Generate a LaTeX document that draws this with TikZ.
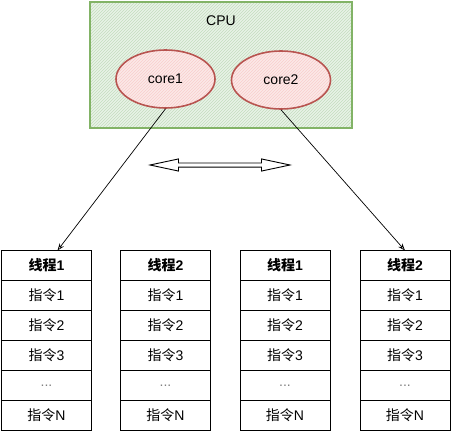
\documentclass[tikz,border=0pt]{standalone}
\usepackage{fontspec}
\setmainfont{Liberation Sans}
\newfontfamily\cjk{Noto Sans CJK SC}
\usetikzlibrary{arrows.meta, positioning, patterns, shapes.geometric, shapes.arrows}
\definecolor{cpugreen}{RGB}{130,179,102}
\definecolor{cpufill}{RGB}{213,232,212}
\definecolor{corered}{RGB}{184,84,80}
\definecolor{corefill}{RGB}{248,206,204}
\newcommand{\diafont}{\fontsize{14}{16}\selectfont}
\tikzset{
    cpubox/.style={rectangle, draw=cpugreen, line width=1.6pt, preaction={fill=cpufill!55}, pattern=north east lines, pattern color=cpufill!80!cpugreen, minimum width=262pt, minimum height=126pt, inner sep=0pt},
    coreball/.style={ellipse, draw=corered, line width=1.6pt, preaction={fill=corefill!45}, pattern=north east lines, pattern color=corefill, minimum width=99pt, minimum height=58pt, inner sep=0pt},
    threadbox/.style={rectangle, draw=black, line width=0.8pt, fill=white, minimum width=90pt, minimum height=30pt, inner sep=0pt, outer sep=0pt},
    threadhead/.style={threadbox, font=\diafont\bfseries},
    corearrow/.style={-{Stealth[length=2.5mm, open]}, line width=0.7pt, black},
    swaparrow/.style={double arrow, draw=black, line width=0.9pt, fill=white, minimum height=140pt, inner sep=1.6pt, double arrow head extend=4pt, double arrow tip angle=24}
}

\begin{document}
\begin{tikzpicture}[x=1pt, y=-1pt, font=\diafont]
\useasboundingbox (0,0) rectangle (451,431);

\node[cpubox, label={[anchor=center, yshift=-19pt]north:CPU}] (cpu) at (221,65) {};
\node[coreball] (core1) at (165.5,79) {core1};
\node[coreball] (core2) at (281,80) {core2};

\node[swaparrow] (swap) at (220,165) {};

\foreach \i/\x/\n in {1/46.5/1, 2/165.5/2, 3/285/1, 4/405/2} {
    \node[threadhead] (h\i) at (\x,265.5) {{\cjk 线程}\n};
    \node[threadbox, below=0pt of h\i] (a\i) {{\cjk 指令}1};
    \node[threadbox, below=0pt of a\i] (b\i) {{\cjk 指令}2};
    \node[threadbox, below=0pt of b\i] (c\i) {{\cjk 指令}3};
    \node[threadbox, below=0pt of c\i] (d\i) {\textcolor{gray}{...}};
    \node[threadbox, below=0pt of d\i] (e\i) {{\cjk 指令}N};
}

\draw[corearrow] (core1.south) -- ([xshift=11pt]h1.north);
\draw[corearrow] (core2.south) -- (h4.north);

\end{tikzpicture}
\end{document}
